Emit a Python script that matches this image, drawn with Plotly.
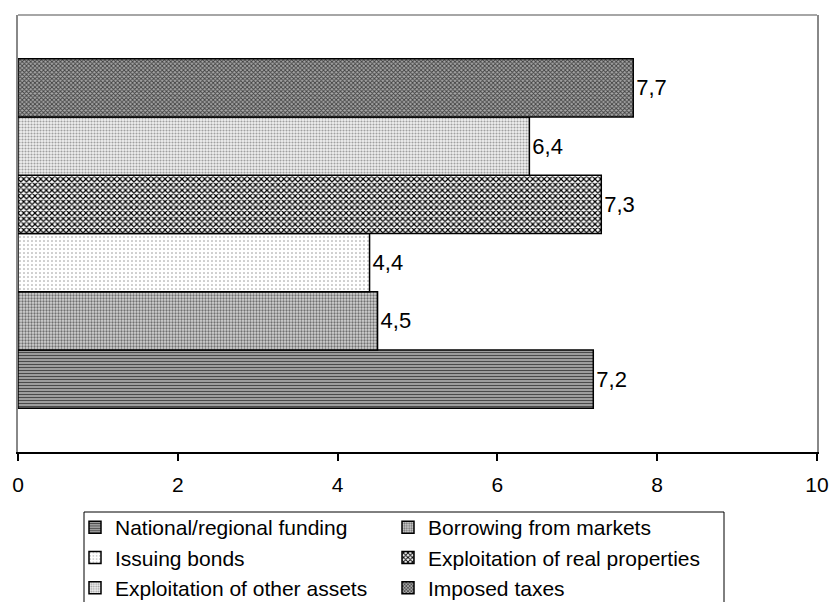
import plotly.graph_objects as go

series = ["National/regional funding", "Borrowing from markets", "Issuing bonds",
          "Exploitation of real properties", "Exploitation of other assets", "Imposed taxes"]
values = [7.2, 4.5, 4.4, 7.3, 6.4, 7.7]
x_ticks = [0, 2, 4, 6, 8, 10]

patterns = [
    dict(shape="-", fgcolor="#4a4a4a", bgcolor="#b8b8b8", size=3, solidity=0.5),
    dict(shape=".", fgcolor="#707070", bgcolor="#d4d4d4", size=3, solidity=0.45),
    dict(shape=".", fgcolor="#909090", bgcolor="#ffffff", size=4, solidity=0.12),
    dict(shape="x", fgcolor="#000000", bgcolor="#ffffff", size=4, solidity=0.5),
    dict(shape=".", fgcolor="#a0a0a0", bgcolor="#f0f0f0", size=3, solidity=0.4),
    dict(shape="x", fgcolor="#404040", bgcolor="#a8a8a8", size=3, solidity=0.5),
]

FONT = "Liberation Sans, Arial, sans-serif"
W, H = 829, 602
PL, PR, PT, PB = 18, 12, 15, 150
PW, PH = W - PL - PR, H - PT - PB
AX_Y = H - PB  # axis line y in figure px

fig = go.Figure()
for name, v, p in zip(series, values, patterns):
    fig.add_trace(go.Bar(
        y=[0], x=[v], orientation="h", name=name,
        marker=dict(color=p["bgcolor"], pattern=dict(shape=p["shape"], fgcolor=p["fgcolor"],
                    bgcolor=p["bgcolor"], size=p["size"], solidity=p["solidity"], fillmode="replace"),
                    line=dict(color="black", width=1.5)),
        texttemplate="%{x:.1f}", textposition="outside", cliponaxis=False,
        textfont=dict(family=FONT, size=22, color="black"),
    ))

fig.update_layout(
    width=W, height=H,
    margin=dict(l=PL, r=PR, t=PT, b=PB, autoexpand=False),
    paper_bgcolor="white", plot_bgcolor="white",
    barmode="group", bargap=0.2, bargroupgap=0,
    separators=", ",
    font=dict(family=FONT, size=22, color="black"),
    showlegend=True,
    legend=dict(orientation="h", x=(75 - PL) / PW, xanchor="left",
                y=-(507 - AX_Y) / PH, yanchor="top",
                entrywidth=268, entrywidthmode="pixels",
                font=dict(family=FONT, size=21, color="black"),
                bgcolor="rgba(0,0,0,0)", borderwidth=0, tracegroupgap=0,
                traceorder="normal"),
    xaxis=dict(range=[0, 10], tickvals=x_ticks, showgrid=False, zeroline=False,
               showline=True, linecolor="black", linewidth=1.5, automargin=False,
               ticks="outside", ticklen=7, tickcolor="black", tickwidth=1.5,
               ticklabelstandoff=6, ticklabeloverflow="allow",
               tickfont=dict(family=FONT, size=21, color="black")),
    yaxis=dict(range=[-0.5, 0.5], showticklabels=False, showgrid=False, zeroline=False,
               showline=True, linecolor="#888888", linewidth=1.5, mirror=True, ticks="",
               automargin=False),
    shapes=[
        dict(type="line", xref="paper", yref="paper", x0=0, x1=1, y0=1, y1=1,
             line=dict(color="#888888", width=1.5), layer="below"),
        dict(type="rect", xref="paper", yref="paper",
             x0=(84 - PL) / PW, x1=(724 - PL) / PW,
             y0=-(512 - AX_Y) / PH, y1=-(650 - AX_Y) / PH,
             line=dict(color="black", width=1), layer="above"),
    ],
)

fig.write_html("out.html", config={"displayModeBar": False},
               post_script="document.body.style.margin='0';document.body.style.overflow='hidden';")
